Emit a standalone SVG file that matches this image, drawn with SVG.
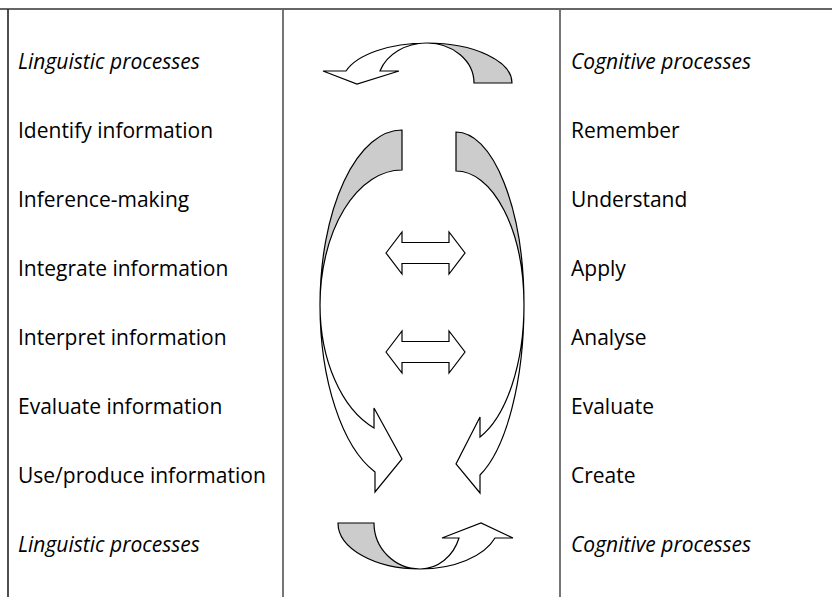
<svg xmlns="http://www.w3.org/2000/svg" width="832" height="597" viewBox="0 0 832 597">
<style>
.t{font-family:"Open Sans","Noto Sans","Liberation Sans",sans-serif;font-size:21px;fill:#000}
.i{font-style:italic}
.sh{stroke:#000;stroke-width:1.2;stroke-linejoin:miter}
.g{fill:#cccccc}
.w{fill:#ffffff}
.ln{stroke:#666;stroke-width:1.8;fill:none}
</style>
<rect x="0" y="0" width="832" height="597" fill="#fff"/>
<g id="table">
<line class="ln" x1="0" y1="9" x2="832" y2="9"/>
<line x1="8" y1="9" x2="8" y2="597" stroke="#222" stroke-width="1.6"/>
<line class="ln" x1="283" y1="9" x2="283" y2="597"/>
<line class="ln" x1="560" y1="9" x2="560" y2="597"/>
</g>
<g id="left-col">
<text class="t i" x="18" y="69">Linguistic processes</text>
<text class="t" x="18" y="138">Identify information</text>
<text class="t" x="18" y="207">Inference-making</text>
<text class="t" x="18" y="276">Integrate information</text>
<text class="t" x="18" y="345">Interpret information</text>
<text class="t" x="18" y="414">Evaluate information</text>
<text class="t" x="18" y="483">Use/produce information</text>
<text class="t i" x="18" y="552">Linguistic processes</text>
</g>
<g id="right-col">
<text class="t i" x="571" y="69">Cognitive processes</text>
<text class="t" x="571" y="138">Remember</text>
<text class="t" x="571" y="207">Understand</text>
<text class="t" x="571" y="276">Apply</text>
<text class="t" x="571" y="345">Analyse</text>
<text class="t" x="571" y="414">Evaluate</text>
<text class="t" x="571" y="483">Create</text>
<text class="t i" x="571" y="552">Cognitive processes</text>
</g>
<g id="connectors">
<g id="top-arrow">
<path class="sh g" d="M 512,83 A 85 40 0 0 0 427,43 A 47 40 0 0 1 474,83 Z"/>
<path class="sh w" d="M 427,43 A 85 40 0 0 0 346,71 L 323,71 L 357,84 L 399,71 L 380,71 A 49 40 0 0 1 427,43 Z"/>
</g>
<g id="left-arrow">
<path class="sh g" d="M 402,130 A 82 175 0 0 0 320,305 A 82 135 0 0 1 402,170 Z"/>
<path class="sh w" d="M 320,305 A 82 177 0 0 0 375,472 L 375,492 L 402,459 L 374,408 L 374,428 A 82 131 0 0 1 320,305 Z"/>
</g>
<g id="right-arrow">
<path class="sh g" d="M 456,132 A 68 173 0 0 1 524,305 A 68 134 0 0 0 456,171 Z"/>
<path class="sh w" d="M 524,305 A 68 182 0 0 1 480,475 L 480,493 L 456,464 L 480,417 L 480,437 A 68 141 0 0 0 524,305 Z"/>
</g>
<g id="double-arrow-1">
<path class="sh w" d="M 386,253 L 402,232 L 402,242.5 L 449,242.5 L 449,232 L 465,253 L 449,274 L 449,263.5 L 402,263.5 L 402,274 Z"/>
</g>
<g id="double-arrow-2">
<path class="sh w" d="M 386,352 L 402,331 L 402,341.5 L 449,341.5 L 449,331 L 465,352 L 449,373 L 449,362.5 L 402,362.5 L 402,373 Z"/>
</g>
<g id="bottom-arrow">
<path class="sh g" d="M 338,523 L 374,523 A 46 46 0 0 0 420,569 A 82 46 0 0 1 338,523 Z"/>
<path class="sh w" d="M 420,569 A 79 46 0 0 0 495,538 L 513,538 L 481,523 L 442,538 L 459,538 A 41 46 0 0 1 420,569 Z"/>
</g>
</g>
</svg>
